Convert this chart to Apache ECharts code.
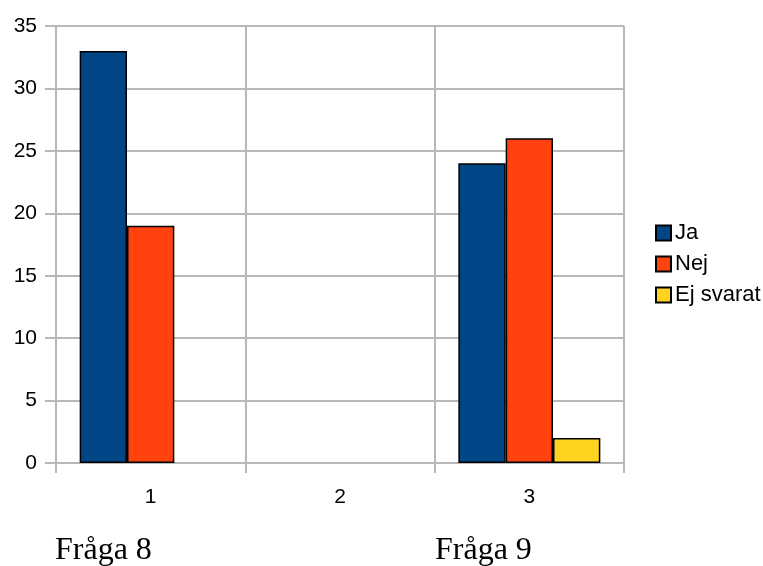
<!DOCTYPE html>
<html>
<head>
<meta charset="utf-8">
<script src="https://cdn.jsdelivr.net/npm/echarts@6/dist/echarts.min.js"></script>
<style>
  html, body { margin: 0; padding: 0; background: #fff; }
  #chart { width: 763px; height: 566px; }
</style>
</head>
<body>
<div id="chart"></div>
<script>
// Survey answers per question group
const categories = ['1', '2', '3'];
const seriesNames = ['Ja', 'Nej', 'Ej svarat'];
const jaValues = [33, null, 24];
const nejValues = [19, null, 26];
const ejSvaratValues = [null, null, 2];
const yTicks = { min: 0, max: 35, step: 5 };
const questionLabels = ['Fråga 8', 'Fråga 9'];

const colors = ['#004586', '#ff420e', '#ffd320'];
const gridColor = '#b8b8b8';

const chart = echarts.init(document.getElementById('chart'));

function barSeries(name, data, color) {
  return {
    name: name,
    type: 'bar',
    data: data,
    barGap: '0%',
    barCategoryGap: '25%',
    itemStyle: { color: color, borderColor: '#000', borderWidth: 1.5 }
  };
}

chart.setOption({
  animation: false,
  grid: { left: 56, right: 139, top: 26, bottom: 103 },
  legend: {
    orient: 'vertical',
    left: 650,
    top: 217,
    itemWidth: 15,
    itemHeight: 15,
    itemGap: 9,
    icon: 'rect',
    data: seriesNames,
    textStyle: { fontFamily: 'Liberation Sans', fontSize: 22, color: '#000', padding: [0, 0, 0, -1] }
  },
  xAxis: {
    type: 'category',
    data: categories,
    axisLine: { lineStyle: { color: gridColor, width: 2 } },
    axisTick: { show: true, length: 10, lineStyle: { color: gridColor, width: 2 } },
    splitLine: { show: true, lineStyle: { color: gridColor, width: 2 } },
    axisLabel: { fontFamily: 'Liberation Sans', fontSize: 21, color: '#000', margin: 24 }
  },
  yAxis: {
    type: 'value',
    min: yTicks.min,
    max: yTicks.max,
    interval: yTicks.step,
    axisLine: { show: true, lineStyle: { color: gridColor, width: 2 } },
    axisTick: { show: true, length: 11, lineStyle: { color: gridColor, width: 2 } },
    splitLine: { show: true, lineStyle: { color: gridColor, width: 2 } },
    axisLabel: { fontFamily: 'Liberation Sans', fontSize: 21, color: '#000', margin: 19 }
  },
  series: [
    barSeries(seriesNames[0], jaValues, colors[0]),
    barSeries(seriesNames[1], nejValues, colors[1]),
    barSeries(seriesNames[2], ejSvaratValues, colors[2])
  ],
  graphic: [
    {
      type: 'text', left: 55, top: 535,
      style: { text: questionLabels[0], font: '32px "Liberation Serif"', fill: '#000' }
    },
    {
      type: 'text', left: 435, top: 535,
      style: { text: questionLabels[1], font: '32px "Liberation Serif"', fill: '#000' }
    }
  ]
});
</script>
</body>
</html>
